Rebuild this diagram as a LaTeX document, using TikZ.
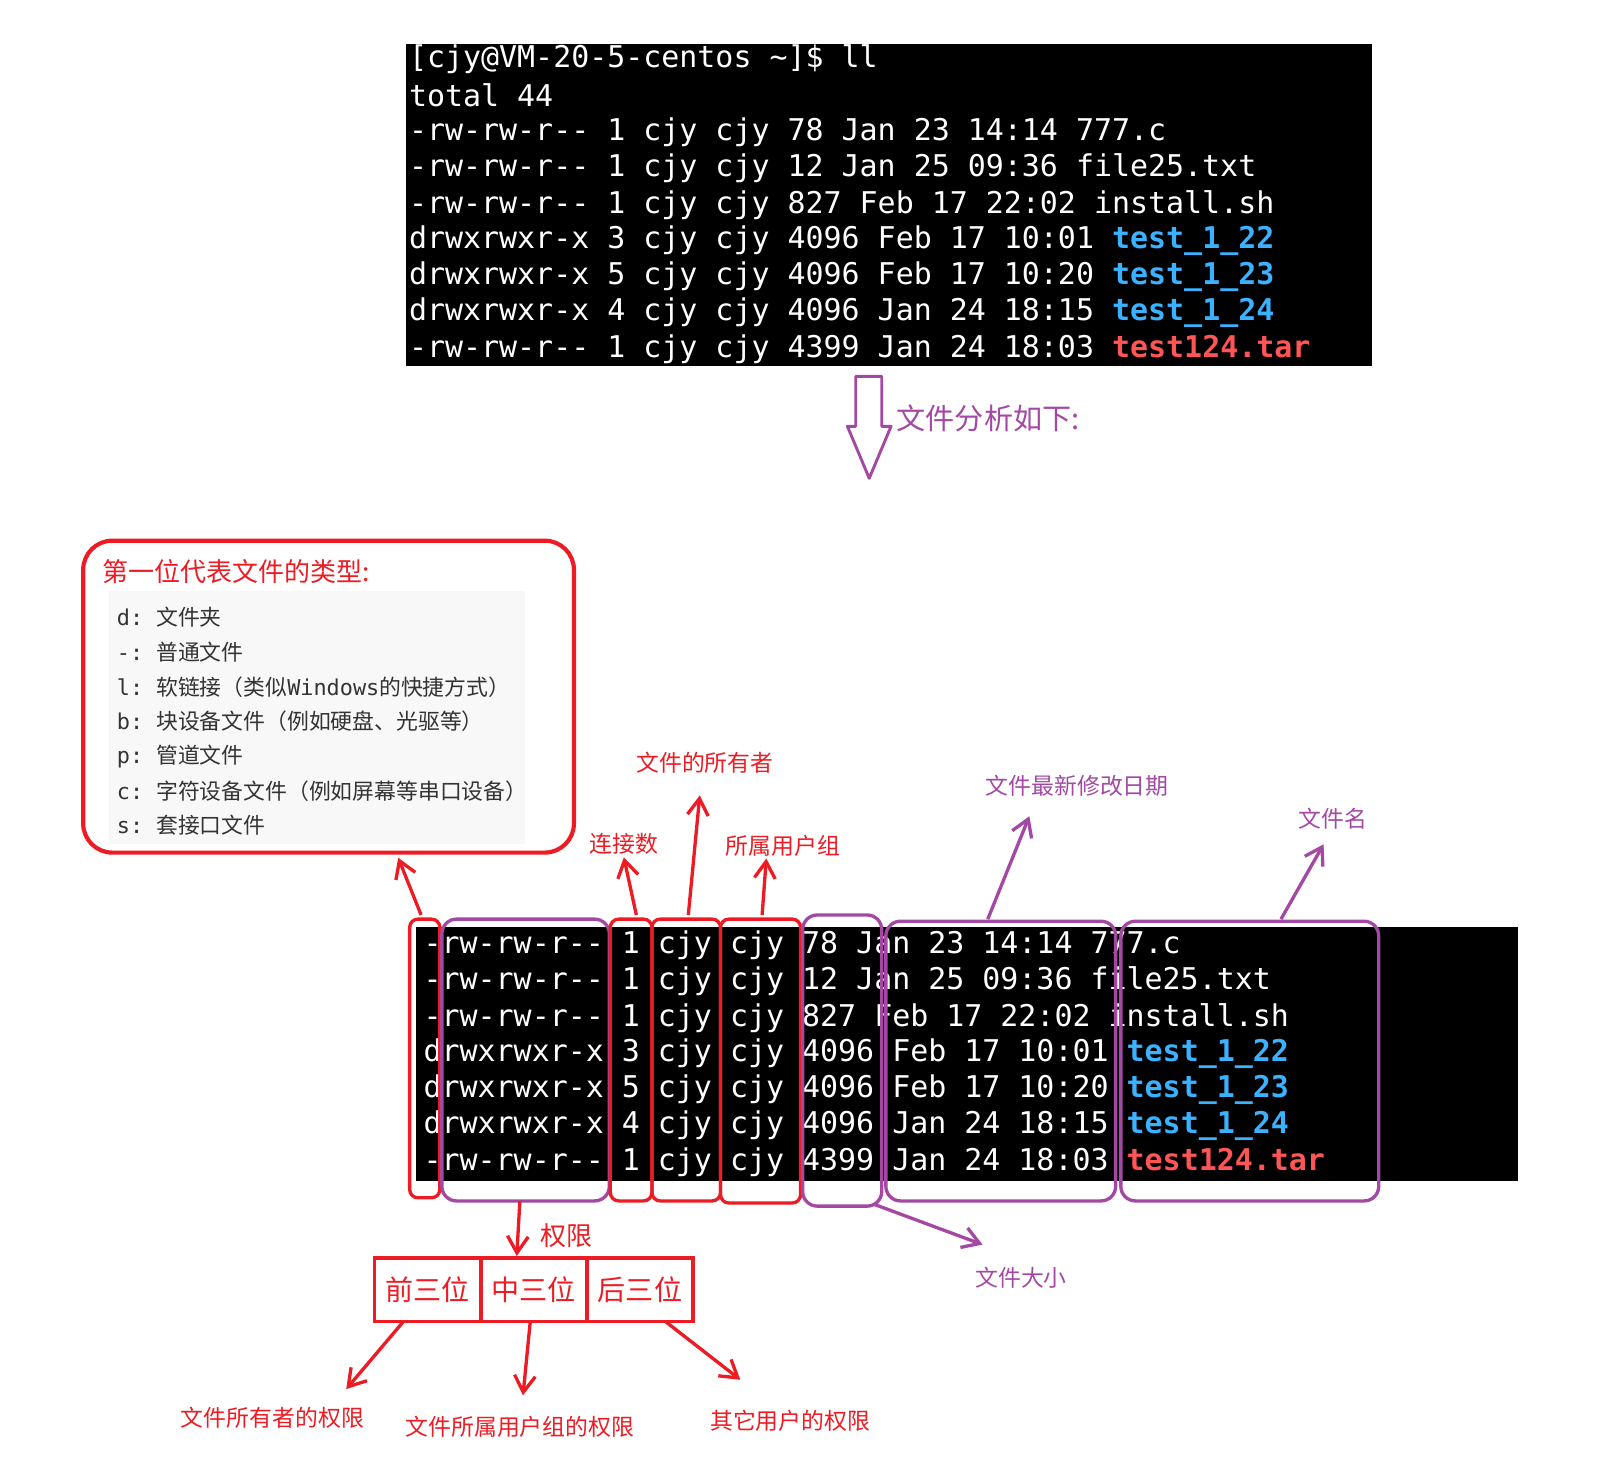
\documentclass[tikz,border=0pt]{standalone}
\usepackage{fontspec}
\setmainfont{DejaVu Sans}
\setmonofont{DejaVu Sans Mono}
\newfontfamily\cjk{Noto Sans CJK SC}
\usetikzlibrary{arrows.meta}
\definecolor{rd}{RGB}{237,28,36}
\definecolor{pu}{RGB}{163,73,164}
\definecolor{tb}{RGB}{59,178,255}
\definecolor{tr}{RGB}{255,85,85}
\definecolor{gb}{RGB}{248,248,248}
\tikzset{
 term/.style={anchor=west,inner sep=0pt,text=white,font=\ttfamily\fontsize{14.4pt}{16pt}\selectfont},
 rbox/.style={draw=rd,line width=1.6pt,rounded corners=4pt},
 pbox/.style={draw=pu,line width=1.6pt,rounded corners=7pt},
 rar/.style={draw=rd,line width=1.6pt,-{Straight Barb[length=8pt,width=10pt]}},
 par/.style={draw=pu,line width=1.6pt,-{Straight Barb[length=8pt,width=10pt]}},
 rlab/.style={text=rd,font=\cjk\fontsize{11pt}{13pt}\selectfont,inner sep=1pt},
 plab/.style={text=pu,font=\cjk\fontsize{11pt}{13pt}\selectfont,inner sep=1pt},
 gl/.style={anchor=west,inner sep=0pt,text=black!80,font=\cjk\fontsize{10.5pt}{12pt}\selectfont},
}
\newcommand{\bn}[1]{\textcolor{tb}{\textbf{#1}}}
\newcommand{\rn}[1]{\textcolor{tr}{\textbf{#1}}}
\begin{document}
\begin{tikzpicture}[x=0.5pt,y=-0.5pt]
\useasboundingbox (0,0) rectangle (1560,1425);
% top terminal
\fill[black] (390,42) rectangle (1320,352);
\node[term] (t0) at (393,57) {[cjy@VM-20-5-centos \textasciitilde]\$ ll};
\node[term] (t1) at (393,92) {total 44};
\node[term] (t2) at (393,127) {-rw-rw-r-- 1 cjy cjy   78 Jan 23 14:14 777.c};
\node[term] (t3) at (393,162) {-rw-rw-r-- 1 cjy cjy   12 Jan 25 09:36 file25.txt};
\node[term] (t4) at (393,197) {-rw-rw-r-- 1 cjy cjy  827 Feb 17 22:02 install.sh};
\node[term] (t5) at (393,231) {drwxrwxr-x 3 cjy cjy 4096 Feb 17 10:01 \bn{test\_1\_22}};
\node[term] (t6) at (393,266) {drwxrwxr-x 5 cjy cjy 4096 Feb 17 10:20 \bn{test\_1\_23}};
\node[term] (t7) at (393,301) {drwxrwxr-x 4 cjy cjy 4096 Jan 24 18:15 \bn{test\_1\_24}};
\node[term] (t8) at (393,336) {-rw-rw-r-- 1 cjy cjy 4399 Jan 24 18:03 \rn{test124.tar}};
% big arrow
\draw[pu,line width=1.4pt,line join=round] (823,362) -- (848,362) -- (848,410) -- (857,410) -- (836,460) -- (815,410) -- (823,410) -- cycle;
\node[plab,anchor=west,font=\cjk\fontsize{14pt}{16pt}\selectfont] (ana) at (860,402) {文件分析如下:};
% type box
\fill[gb] (105,568) rectangle (505,812);
\draw[rd,line width=2pt,rounded corners=14pt] (80,520) rectangle (552,820);
\node[anchor=west,inner sep=0pt,text=rd,font=\cjk\fontsize{12.5pt}{14pt}\selectfont] (tt) at (98,550) {第一位代表文件的类型:};
\node[gl] (g1) at (112,594) {\ttfamily d: \cjk 文件夹};
\node[gl] (g2) at (112,627) {\ttfamily -: \cjk 普通文件};
\node[gl] (g3) at (112,661) {\ttfamily l: \cjk 软链接（类似\ttfamily Windows\cjk 的快捷方式）};
\node[gl] (g4) at (112,694) {\ttfamily b: \cjk 块设备文件（例如硬盘、光驱等）};
\node[gl] (g5) at (112,728) {\ttfamily p: \cjk 管道文件};
\node[gl] (g6) at (112,761) {\ttfamily c: \cjk 字符设备文件（例如屏幕等串口设备）};
\node[gl] (g7) at (112,794) {\ttfamily s: \cjk 套接口文件};
% bottom terminal
\fill[black] (400,892) rectangle (1460,1136);
\node[term] (b1) at (407,909) {-rw-rw-r-- 1 cjy cjy   78 Jan 23 14:14 777.c};
\node[term] (b2) at (407,944) {-rw-rw-r-- 1 cjy cjy   12 Jan 25 09:36 file25.txt};
\node[term] (b3) at (407,979) {-rw-rw-r-- 1 cjy cjy  827 Feb 17 22:02 install.sh};
\node[term] (b4) at (407,1013) {drwxrwxr-x 3 cjy cjy 4096 Feb 17 10:01 \bn{test\_1\_22}};
\node[term] (b5) at (407,1048) {drwxrwxr-x 5 cjy cjy 4096 Feb 17 10:20 \bn{test\_1\_23}};
\node[term] (b6) at (407,1083) {drwxrwxr-x 4 cjy cjy 4096 Jan 24 18:15 \bn{test\_1\_24}};
\node[term] (b7) at (407,1118) {-rw-rw-r-- 1 cjy cjy 4399 Jan 24 18:03 \rn{test124.tar}};
% column boxes
\draw[rbox] (394,884) rectangle (423,1152);
\draw[pbox] (425,884) rectangle (586,1155);
\draw[rbox] (587,884) rectangle (627,1155);
\draw[rbox] (627,884) rectangle (693,1155);
\draw[rbox] (693,884) rectangle (770,1157);
\draw[pbox] (772,880) rectangle (848,1160);
\draw[pbox] (852,886) rectangle (1073,1155);
\draw[pbox] (1078,886) rectangle (1326,1155);
% labels
\node[rlab] (l1) at (600,812) {连接数};
\node[rlab] (l2) at (678,734) {文件的所有者};
\node[rlab] (l3) at (753,813) {所属用户组};
\node[plab] (l4) at (1036,756) {文件最新修改日期};
\node[plab] (l5) at (1282,787) {文件名};
\node[plab] (l6) at (982,1229) {文件大小};
\node[rlab,font=\cjk\fontsize{12.5pt}{14pt}\selectfont] (l7) at (545,1188) {权限};
\coordinate (a0) at (405,880); \coordinate (a0e) at (383,825);
\draw[rar] (a0) -- (a0e);
\coordinate (a1) at (612,880); \draw[rar] (a1) -- (l1.south);
\coordinate (a2) at (662,880); \draw[rar] (a2) -- (673,765);
\coordinate (a3) at (733,880); \draw[rar] (a3) -- (l3.south -| 737,0) ;
\coordinate (a4) at (950,884); \draw[par] (a4) -- (990,785);
\coordinate (a5) at (1232,884); \draw[par] (a5) -- (1273,812);
\coordinate (a6) at (840,1158); \coordinate (a6e) at (945,1197); \draw[par] (a6) -- (a6e);
\coordinate (a7) at (500,1155); \coordinate (a7e) at (497,1208); \draw[rar] (a7) -- (a7e);
% permission boxes
\tikzset{pb/.style={draw=rd,line width=1.6pt,minimum width=51pt,minimum height=30.5pt,inner sep=0pt,text=rd,font=\cjk\fontsize{13.5pt}{15pt}\selectfont}}
\node[pb] (p1) at (411,1240.5) {前三位};
\node[pb] (p2) at (513.5,1240.5) {中三位};
\node[pb] (p3) at (615.5,1240.5) {后三位};
\node[rlab] (q1) at (262,1364) {文件所有者的权限};
\node[rlab] (q2) at (500,1372) {文件所属用户组的权限};
\node[rlab] (q3) at (760,1366) {其它用户的权限};
\draw[rar] (388,1271) -- (333,1336);
\draw[rar] (510,1271) -- (503,1342);
\draw[rar] (640,1271) -- (712,1327);
\end{tikzpicture}
\end{document}
